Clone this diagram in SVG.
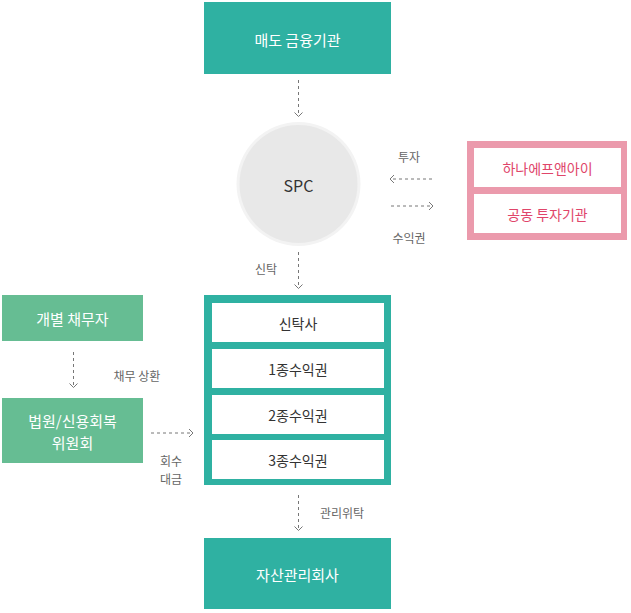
<svg xmlns="http://www.w3.org/2000/svg" width="631" height="613" viewBox="0 0 631 613">
<defs>
<style>
text{font-family:"Noto Sans CJK KR","Noto Sans",sans-serif;text-anchor:middle;dominant-baseline:central}
.teal{fill:#2fb1a2}
.green{fill:#66bd93}
.wt{fill:#fff;font-size:15px}
.inner{fill:#fff}
.it{fill:#333;font-size:14px}
.pt{fill:#e0456a;font-size:14px}
.lbl{fill:#666;font-size:12px}
.con{stroke:#777;stroke-width:1;stroke-dasharray:3,3;fill:none}
.head{stroke:#777;stroke-width:1;fill:none}
</style>
</defs>
<g id="seller">
<rect class="teal" x="204" y="2" width="187" height="72"/>
<text class="wt" x="297.5" y="39">매도 금융기관</text>
</g>
<g id="spc">
<circle cx="298.5" cy="184" r="62" fill="#f3f3f3"/>
<circle cx="298.5" cy="184" r="59" fill="#e8e8e8"/>
<text x="298.5" y="185" fill="#333" font-size="16">SPC</text>
</g>
<g id="investors">
<rect x="467" y="141" width="160" height="99" fill="#eb9aac"/>
<rect class="inner" x="474" y="148" width="147" height="39"/>
<rect class="inner" x="474" y="194" width="147" height="39"/>
<text class="pt" x="547.5" y="167.5">하나에프앤아이</text>
<text class="pt" x="547.5" y="213.5">공동 투자기관</text>
</g>
<g id="debtor">
<rect class="green" x="2" y="295" width="141" height="46"/>
<text class="wt" x="72.5" y="318">개별 채무자</text>
</g>
<g id="court">
<rect class="green" x="2" y="398" width="141" height="65"/>
<text class="wt" x="72.5" y="420">법원/신용회복</text>
<text class="wt" x="72.5" y="442">위원회</text>
</g>
<g id="trust">
<rect class="teal" x="204" y="295" width="187" height="190"/>
<rect class="inner" x="212" y="303" width="172" height="39"/>
<rect class="inner" x="212" y="349" width="172" height="39"/>
<rect class="inner" x="212" y="395" width="172" height="39"/>
<rect class="inner" x="212" y="440" width="172" height="39"/>
<text class="it" x="298" y="322.5">신탁사</text>
<text class="it" x="298" y="368.5">1종수익권</text>
<text class="it" x="298" y="414.5">2종수익권</text>
<text class="it" x="298" y="459.5">3종수익권</text>
</g>
<g id="amc">
<rect class="teal" x="204" y="538" width="187" height="71"/>
<text class="wt" x="297.5" y="574">자산관리회사</text>
</g>
<g id="connectors">
<path class="con" d="M298.5 80V116"/>
<path class="head" d="M294.5 112.5L298.5 116.5L302.5 112.5"/>
<path class="con" d="M432 179H391"/>
<path class="head" d="M394 175L390 179L394 183"/>
<path class="con" d="M391 206H432"/>
<path class="head" d="M429 202L433 206L429 210"/>
<path class="con" d="M298.5 252V288"/>
<path class="head" d="M294.5 284.5L298.5 288.5L302.5 284.5"/>
<path class="con" d="M73.5 352V387"/>
<path class="head" d="M69.5 383.5L73.5 387.5L77.5 383.5"/>
<path class="con" d="M151 433H193"/>
<path class="head" d="M189 429L193 433L189 437"/>
<path class="con" d="M298.5 495V530"/>
<path class="head" d="M294.5 526.5L298.5 530.5L302.5 526.5"/>
<text class="lbl" x="409" y="156">투자</text>
<text class="lbl" x="409" y="237">수익권</text>
<text class="lbl" x="266" y="268">신탁</text>
<text class="lbl" x="137" y="375">채무 상환</text>
<text class="lbl" x="171" y="460">회수</text>
<text class="lbl" x="171" y="478">대금</text>
<text class="lbl" x="342" y="512">관리위탁</text>
</g>
</svg>
